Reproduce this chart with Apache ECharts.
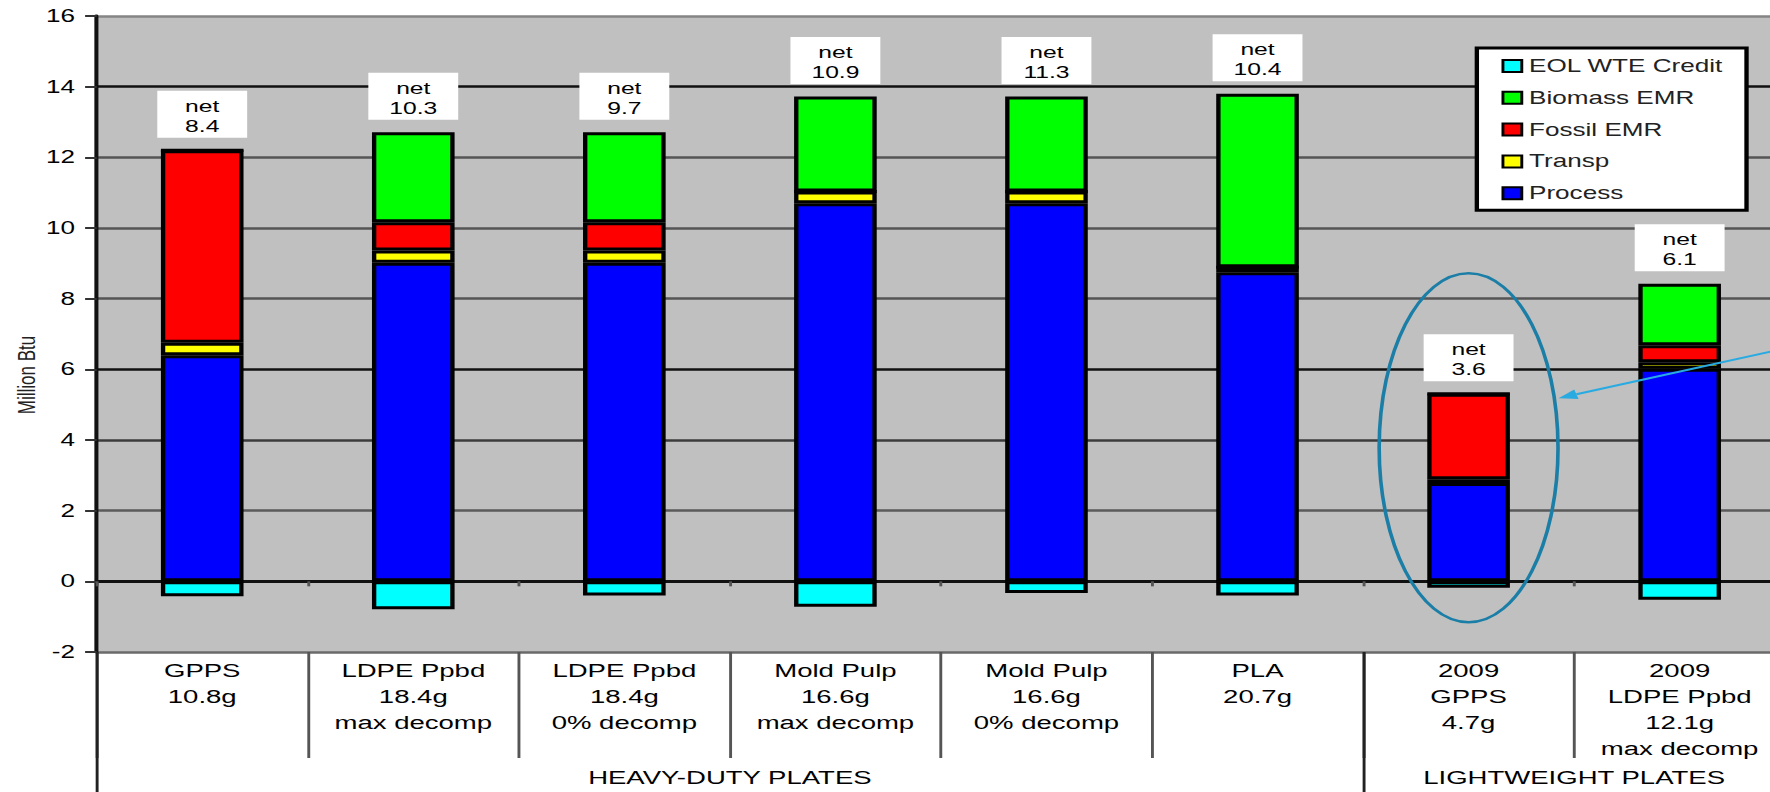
<!DOCTYPE html>
<html>
<head>
<meta charset="utf-8">
<title>Plate energy by component</title>
<script src="https://cdn.jsdelivr.net/npm/echarts@6.0.0/dist/echarts.min.js"></script>
<style>
  html, body { margin: 0; padding: 0; background: #fff; overflow: hidden; }
  /* the source picture is stretched sideways, so draw narrow and stretch the whole chart */
  #chart { width: 1221px; height: 792px; transform: scaleX(1.4496); transform-origin: 0 0; }
</style>
</head>
<body>
<div id="chart"></div>
<script>
// categories along the bottom
const categories = [
  'GPPS\n10.8g',
  'LDPE Ppbd\n18.4g\nmax decomp',
  'LDPE Ppbd\n18.4g\n0% decomp',
  'Mold Pulp\n16.6g\nmax decomp',
  'Mold Pulp\n16.6g\n0% decomp',
  'PLA\n20.7g',
  '2009\nGPPS\n4.7g',
  '2009\nLDPE Ppbd\n12.1g\nmax decomp'
];
const groupNames = ['HEAVY-DUTY PLATES', 'LIGHTWEIGHT PLATES'];
const groupSizes = [6, 2];

// Million Btu per component
const processVals = [6.4, 9.02, 9.02, 10.7, 10.7, 8.75, 2.78, 6.02];
const transpVals = [0.35, 0.34, 0.34, 0.33, 0.33, 0.14, 0.11, 0.18];
const fossilVals = [5.45, 0.8, 0.8, 0, 0, 0, 2.42, 0.48];
const biomassVals = [0, 2.55, 2.55, 2.69, 2.69, 4.91, 0, 1.74];
const eolVals = [-0.42, -0.79, -0.4, -0.72, -0.33, -0.4, -0.18, -0.52];
const netVals = ['8.4', '10.3', '9.7', '10.9', '11.3', '10.4', '3.6', '6.1'];

const yMin = -2, yMax = 16, yStep = 2;

const FONT = 'Liberation Sans, Arial, sans-serif';
const chart = echarts.init(document.getElementById('chart'), null, { renderer: 'svg' });

const tops = processVals.map((v, i) => v + transpVals[i] + fossilVals[i] + biomassVals[i]);

const barStyle = (color) => ({ color: color, borderColor: '#000', borderWidth: 3 });
const mkBar = (name, vals, color) => ({
  name: name,
  type: 'bar',
  stack: 'total',
  barWidth: 57,
  data: vals,
  itemStyle: barStyle(color),
  emphasis: { disabled: true }
});

// group boundaries and centres on a 0..8 scale
const groupEdges = [0];
groupSizes.forEach(s => groupEdges.push(groupEdges[groupEdges.length - 1] + s));
const groupCenters = groupSizes.map((s, i) => groupEdges[i] + s / 2);

const option = {
  animation: false,
  grid: {
    left: 66.7, top: 16, width: 1164.8, height: 636,
    show: true, backgroundColor: '#c0c0c0', borderWidth: 0,
    containLabel: false, outerBoundsMode: 'none'
  },
  legend: {
    orient: 'vertical',
    left: 1018.8, top: 48,
    data: ['EOL WTE Credit', 'Biomass EMR', 'Fossil EMR', 'Transp', 'Process'],
    backgroundColor: '#fff',
    borderColor: '#000', borderWidth: 3, borderRadius: 0,
    padding: [9, 16, 8, 17],
    itemWidth: 13, itemHeight: 12,
    itemGap: 13.8,
    icon: 'rect',
    itemStyle: { borderColor: '#000', borderWidth: 2 },
    textStyle: { fontFamily: FONT, fontSize: 18, lineHeight: 18, color: '#222' },
    selectedMode: false
  },
  xAxis: [
    {
      type: 'category',
      data: categories,
      position: 'bottom',
      axisLine: { show: false, onZero: false },
      axisTick: { show: true, interval: 0, length: 106, lineStyle: { color: '#555', width: 2 } },
      axisLabel: { interval: 0, margin: 6, fontFamily: FONT, fontSize: 19, lineHeight: 26, color: '#000' },
      splitLine: { show: false }
    },
    {
      type: 'category',
      data: categories,
      position: 'bottom',
      axisLine: { show: true, onZero: true, lineStyle: { color: '#111', width: 3 } },
      axisTick: { show: true, interval: 0, length: 5, lineStyle: { color: '#555', width: 2 } },
      axisLabel: { show: false },
      splitLine: { show: false }
    },
    {
      type: 'value',
      min: 0, max: categories.length,
      position: 'bottom',
      axisLine: { show: false, onZero: false },
      axisTick: { show: true, customValues: [groupEdges[0], groupEdges[1]], length: 140, lineStyle: { color: '#222', width: 2 } },
      axisLabel: {
        customValues: groupCenters,
        margin: 116,
        fontFamily: FONT, fontSize: 19, color: '#000',
        formatter: (v) => groupNames[groupCenters.indexOf(v)] || ''
      },
      splitLine: { show: false }
    }
  ],
  yAxis: {
    type: 'value',
    min: yMin, max: yMax, interval: yStep,
    axisLine: { show: true, onZero: false, lineStyle: { color: '#111', width: 2.8 } },
    axisTick: { show: true, length: 8, lineStyle: { color: '#333', width: 2 } },
    axisLabel: { margin: 15, fontFamily: FONT, fontSize: 18, color: '#000' },
    splitLine: {
      show: true,
      lineStyle: {
        width: 2.5,
        color: ['#6a6a6a', '#111', '#5a5a5a', '#3c3c3c', '#111', '#555', '#555', '#555', '#111', '#858585']
      }
    }
  },
  series: [
    mkBar('Process', processVals, '#0000ff'),
    mkBar('Transp', transpVals, '#ffff00'),
    mkBar('Fossil EMR', fossilVals, '#ff0000'),
    mkBar('Biomass EMR', biomassVals, '#00ff00'),
    mkBar('EOL WTE Credit', eolVals, '#00ffff'),
    {
      name: 'net',
      type: 'scatter',
      symbol: 'rect',
      symbolSize: 1,
      itemStyle: { color: 'rgba(0,0,0,0)', opacity: 1 },
      data: tops.map((t, i) => [i, t]),
      z: 5,
      label: {
        show: true,
        position: 'top',
        distance: 12,
        opacity: 1,
        formatter: (p) => 'net\n' + netVals[p.dataIndex],
        backgroundColor: '#ffffff',
        width: 62,
        align: 'center',
        padding: [5, 0, 2, 0],
        fontFamily: FONT, fontSize: 17, lineHeight: 20, color: '#000'
      },
      emphasis: { disabled: true }
    }
  ],
  graphic: [
    {
      id: 'yname',
      type: 'text',
      x: 18.3, y: 375,
      rotation: Math.PI / 2,
      style: { text: 'Million Btu', fontFamily: FONT, fontSize: 17, fill: '#222', align: 'center', verticalAlign: 'middle' }
    }
  ]
};

chart.setOption(option);

// callout ellipse round the 2009 GPPS bar, with an arrow coming in from the right
const c = chart.convertToPixel({ xAxisIndex: 0, yAxisIndex: 0 }, [6, 3.78]);
const rx = 61.7, ry = 174.5;
const tip = [c[0] + 62, c[1] - 49.5];
const start = [tip[0] + 160, tip[1] - 51];
const dx = tip[0] - start[0], dy = tip[1] - start[1];
const len = Math.sqrt(dx * dx + dy * dy);
const ux = dx / len, uy = dy / len;
const back = [tip[0] - ux * 13, tip[1] - uy * 13];
const head = [tip, [back[0] - uy * 5, back[1] + ux * 5], [back[0] + uy * 5, back[1] - ux * 5]];

chart.setOption({
  graphic: [
    {
      id: 'ring',
      type: 'ellipse',
      z: 50,
      shape: { cx: c[0], cy: c[1], rx: rx, ry: ry },
      style: { fill: 'none', stroke: '#1b7ea6', lineWidth: 2.5 }
    },
    {
      id: 'arrowLine',
      type: 'line',
      z: 50,
      shape: { x1: start[0], y1: start[1], x2: back[0], y2: back[1] },
      style: { stroke: '#29abe2', lineWidth: 2 }
    },
    {
      id: 'arrowHead',
      type: 'polygon',
      z: 50,
      shape: { points: head },
      style: { fill: '#29abe2' }
    }
  ]
});
</script>
</body>
</html>
